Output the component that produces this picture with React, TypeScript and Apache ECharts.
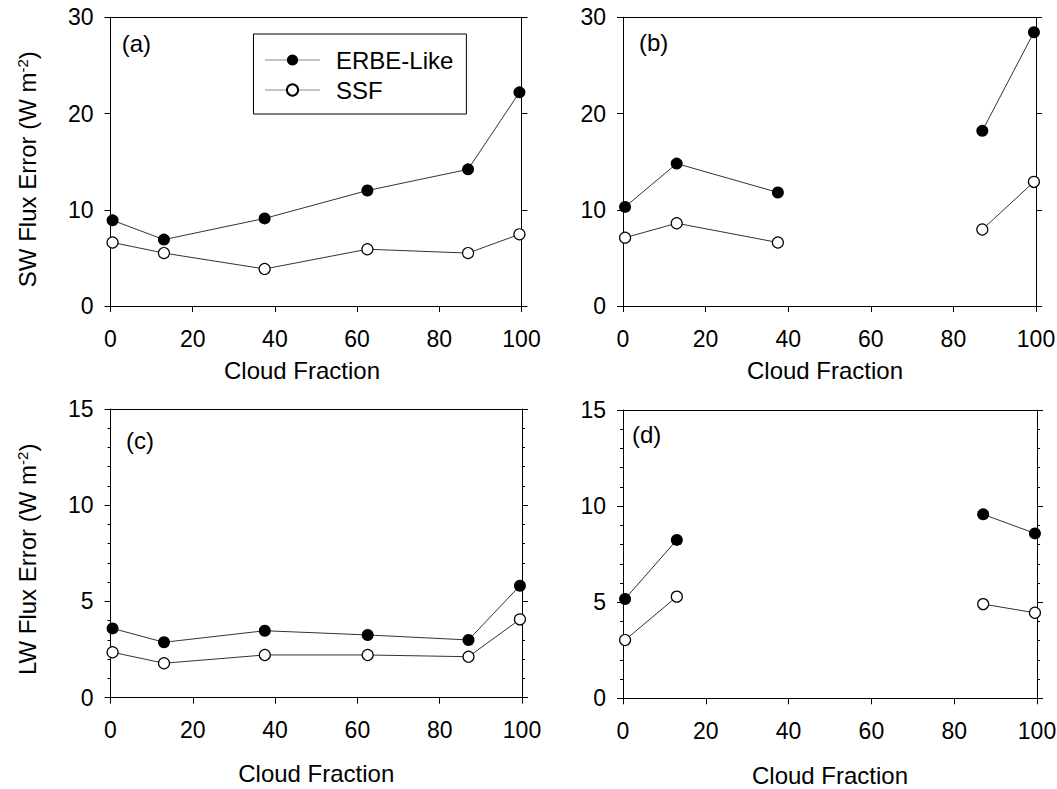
import React, { useEffect, useRef } from 'react';
import * as echarts from 'echarts';

// ---- data ----
const cloudFraction = [0.5, 13, 37.5, 62.5, 87, 99.5];
const xTickValues = [0, 20, 40, 60, 80, 100];

const swErbeA = [8.9, 6.9, 9.1, 12.0, 14.2, 22.2];
const swSsfA = [6.6, 5.5, 3.85, 5.9, 5.5, 7.45];
const swErbeB = [10.3, 14.8, 11.8, null, 18.2, 28.45];
const swSsfB = [7.1, 8.6, 6.6, null, 7.95, 12.9];
const lwErbeC = [3.6, 2.88, 3.48, 3.26, 3.0, 5.82];
const lwSsfC = [2.36, 1.79, 2.22, 2.22, 2.13, 4.07];
const lwErbeD = [5.17, 8.24, null, null, 9.57, 8.58];
const lwSsfD = [3.03, 5.29, null, null, 4.9, 4.45];

const seriesNames = ['ERBE-Like', 'SSF'];
const panelLabels = ['(a)', '(b)', '(c)', '(d)'];
const xTitle = 'Cloud Fraction';
const swTitle = '{t|SW Flux Error (W m}{s|-2}{t|)}';
const lwTitle = '{t|LW Flux Error (W m}{s|-2}{t|)}';

const FONT = '"Liberation Sans", Arial, Helvetica, sans-serif';

function pairs(ys: (number | null)[]) {
  return cloudFraction.map((x, i) => [x, ys[i] == null ? '-' : ys[i]]);
}

const panels = [
  { grid: { left: 110.5, top: 17.3, width: 411, height: 288.7 }, yMax: 30, yInt: 10, minor: false, yName: swTitle, xGap: 52, xPad: 28, yPad: 15, label: { x: 121.7, y: 43.8 }, erbe: swErbeA, ssf: swSsfA },
  { grid: { left: 623, top: 17.3, width: 413, height: 288.7 }, yMax: 30, yInt: 10, minor: false, yName: '', xGap: 52, xPad: 9, yPad: 0, label: { x: 639, y: 42 }, erbe: swErbeB, ssf: swSsfB },
  { grid: { left: 110.5, top: 409, width: 411.5, height: 288.7 }, yMax: 15, yInt: 5, minor: true, yName: lwTitle, xGap: 64, xPad: 0, yPad: 12, label: { x: 126, y: 440.5 }, erbe: lwErbeC, ssf: lwSsfC },
  { grid: { left: 623, top: 410, width: 414, height: 288.3 }, yMax: 15, yInt: 5, minor: true, yName: '', xGap: 65, xPad: 0, yPad: 0, label: { x: 632, y: 434 }, erbe: lwErbeD, ssf: lwSsfD },
];

export default function App() {
  const ref = useRef<HTMLDivElement>(null);
  useEffect(() => {
    if (!ref.current) return;
    const chart = echarts.init(ref.current, null, { renderer: 'svg' });
    const grids: any[] = [];
    const xAxes: any[] = [];
    const yAxes: any[] = [];
    const series: any[] = [];
    const graphics: any[] = [];
    const axisColor = '#000';
    panels.forEach((p, i) => {
      grids.push({ ...p.grid, containLabel: false, outerBoundsMode: 'none' });
      xAxes.push({
        type: 'value', gridIndex: i, position: 'bottom', min: 0, max: 100, interval: 20,
        axisLine: { show: true, onZero: false, lineStyle: { color: axisColor, width: 1 } },
        axisTick: { show: true, inside: false, length: 6, lineStyle: { color: axisColor, width: 1 } },
        axisLabel: { show: true, margin: 21, fontSize: 23, fontFamily: FONT, color: '#000', customValues: undefined },
        splitLine: { show: false },
        name: xTitle, nameLocation: 'middle', nameGap: p.xGap,
        nameTextStyle: { fontSize: 24, fontFamily: FONT, color: '#000', lineHeight: 24, padding: [0, p.xPad, 0, 0] },
      });
      xAxes.push({
        type: 'value', gridIndex: i, position: 'top', min: 0, max: 100, interval: 20,
        axisLine: { show: true, onZero: false, lineStyle: { color: axisColor, width: 1 } },
        axisTick: { show: false }, axisLabel: { show: false }, splitLine: { show: false },
      });
      const yCommon = {
        type: 'value', gridIndex: i, min: 0, max: p.yMax, interval: p.yInt,
        axisLine: { show: true, onZero: false, lineStyle: { color: axisColor, width: 1 } },
        axisTick: { show: true, inside: false, length: 6, lineStyle: { color: axisColor, width: 1 } },
        minorTick: { show: p.minor, splitNumber: 5, length: 3, lineStyle: { color: axisColor, width: 1 } },
        splitLine: { show: false }, minorSplitLine: { show: false },
      };
      yAxes.push({
        ...yCommon, position: 'left',
        axisLabel: { show: true, margin: 17, fontSize: 23, fontFamily: FONT, color: '#000' },
        name: p.yName, nameLocation: 'middle', nameGap: 70, nameRotate: 90,
        nameTextStyle: {
          fontSize: 24, fontFamily: FONT, color: '#000', padding: [0, p.yPad, 0, 0],
          rich: {
            t: { fontSize: 24, fontFamily: FONT, color: '#000', lineHeight: 26 },
            s: { fontSize: 15, fontFamily: FONT, color: '#000', lineHeight: 15, verticalAlign: 'top' },
          },
        },
      });
      yAxes.push({ ...yCommon, position: 'right', axisLabel: { show: false } });
      series.push({
        type: 'line', name: seriesNames[0], xAxisIndex: 2 * i, yAxisIndex: 2 * i,
        data: pairs(p.erbe), symbol: 'circle', symbolSize: 12, showSymbol: true, connectNulls: false,
        itemStyle: { color: '#000' }, lineStyle: { color: '#333', width: 1 }, emphasis: { disabled: true }, z: 3,
      });
      series.push({
        type: 'line', name: seriesNames[1], xAxisIndex: 2 * i, yAxisIndex: 2 * i,
        data: pairs(p.ssf), symbol: 'circle', symbolSize: 11, showSymbol: true, connectNulls: false,
        itemStyle: { color: '#fff', borderColor: '#000', borderWidth: 1.2 }, lineStyle: { color: '#333', width: 1 }, emphasis: { disabled: true }, z: 3,
      });
      graphics.push({
        type: 'text', x: p.label.x, y: p.label.y,
        style: { text: panelLabels[i], fontSize: 24, fontFamily: FONT, fill: '#000', verticalAlign: 'middle', align: 'left' },
      });
    });
    chart.setOption({
      animation: false,
      backgroundColor: '#fff',
      grid: grids,
      xAxis: xAxes,
      yAxis: yAxes,
      series,
      graphic: graphics,
      legend: {
        show: true, data: seriesNames, orient: 'vertical', left: 253.5, top: 34,
        itemWidth: 55, itemHeight: 14, itemGap: 6, padding: [14, 13, 12, 11],
        borderColor: '#000', borderWidth: 1, backgroundColor: '#fff', selectedMode: false,
        textStyle: { fontSize: 24, fontFamily: FONT, color: '#000', lineHeight: 24, padding: [0, 0, 0, 11] },
        lineStyle: { color: '#888', width: 1 },
      },
    });
    return () => chart.dispose();
  }, []);
  return <div ref={ref} style={{ position: 'fixed', left: 0, top: 0, width: 1057, height: 789, background: '#fff' }} />;
}
